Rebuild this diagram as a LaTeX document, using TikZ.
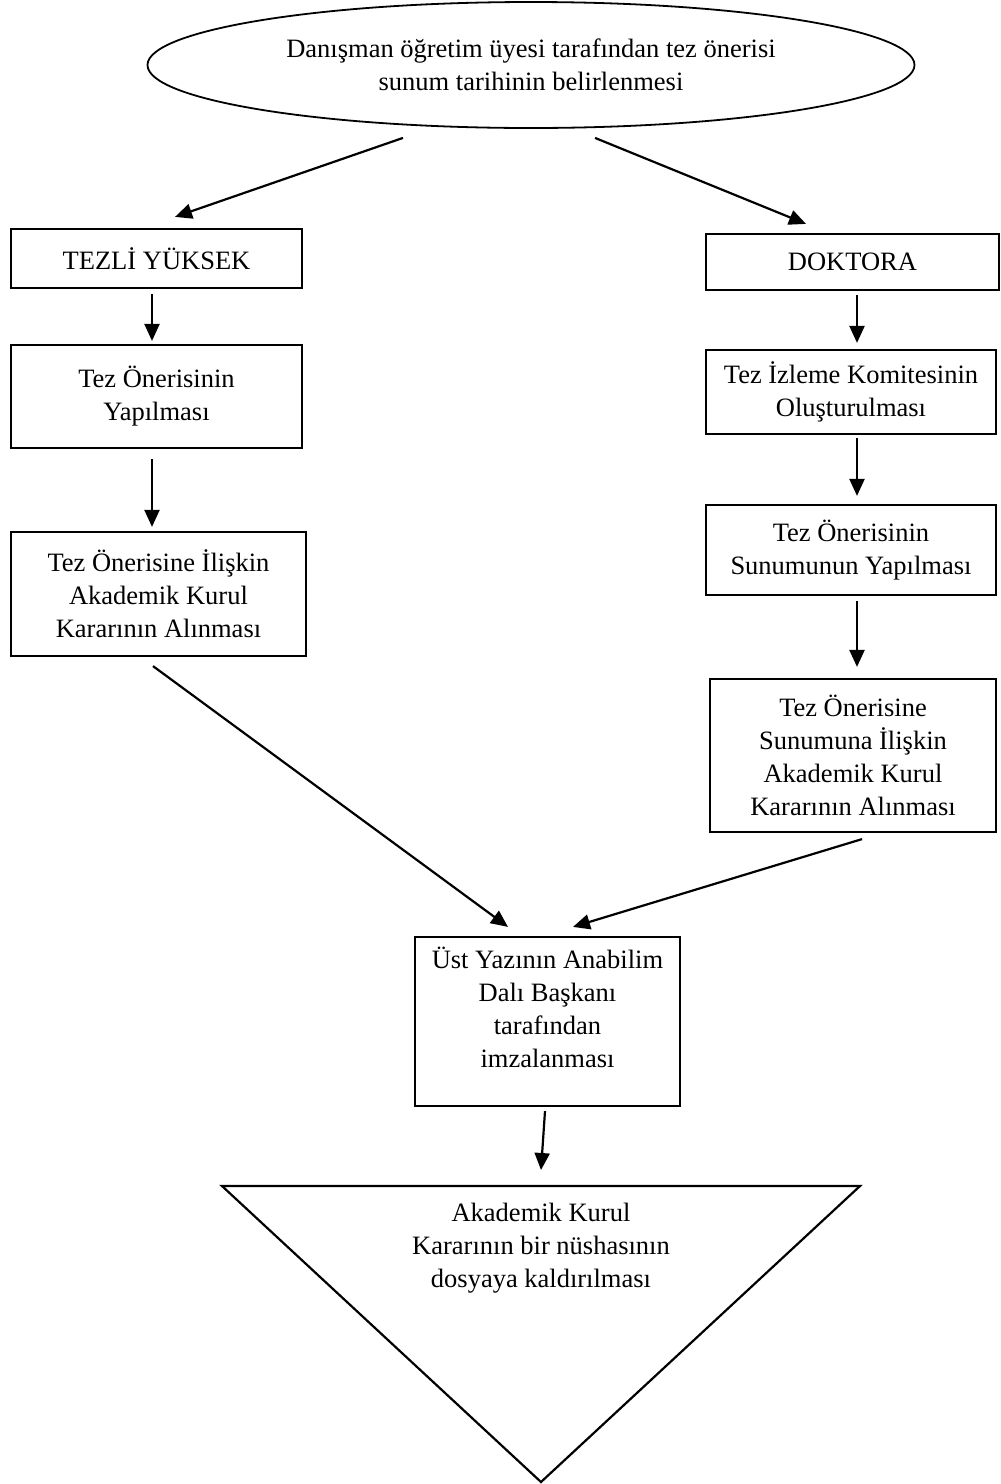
\documentclass[tikz,border=0pt]{standalone}
\usepackage{fontspec}
\setmainfont{Liberation Serif}
\usetikzlibrary{shapes.geometric,arrows.meta}
\begin{document}
\begin{tikzpicture}[x=1pt,y=-1pt,
  every node/.style={font=\fontsize{26.5}{33}\selectfont, align=center, inner sep=0pt},
  procbox/.style={draw, line width=2.2pt},
  arr/.style={line width=2.2pt, -{Triangle[length=17pt,width=15pt]}}]
\useasboundingbox (0,0) rectangle (1001,1484);
\node[draw, ellipse, line width=1.8pt, minimum width=767pt, minimum height=126pt] (ell) at (531,65)
  {Danışman öğretim üyesi tarafından tez önerisi\\sunum tarihinin belirlenmesi};
\node[procbox, minimum width=291pt, minimum height=59pt] (tezli) at (156.5,258.5) {TEZLİ YÜKSEK};
\node[procbox, minimum width=293pt, minimum height=56pt] (dok) at (852.5,262) {DOKTORA};
\node[procbox, minimum width=291pt, minimum height=103pt] (tyap) at (156.5,396.5) {Tez Önerisinin\\Yapılması};
\node[procbox, minimum width=295pt, minimum height=124pt] (tkar) at (158.5,594) {Tez Önerisine İlişkin\\Akademik Kurul\\Kararının Alınması};
\node[procbox, minimum width=290pt, minimum height=84pt] (tizl) at (851,392) {Tez İzleme Komitesinin\\Oluşturulması};
\node[procbox, minimum width=290pt, minimum height=90pt] (tsun) at (851,550) {Tez Önerisinin\\Sunumunun Yapılması};
\node[procbox, minimum width=286pt, minimum height=153pt] (tsk) at (853,755.5) {Tez Önerisine\\Sunumuna İlişkin\\Akademik Kurul\\Kararının Alınması};
\node[procbox, minimum width=265pt, minimum height=169pt] (ust) at (547.5,1021.5) {};
\node[anchor=north] (usttext) at ([shift={(0,11)}]ust.north) {Üst Yazının Anabilim\\Dalı Başkanı\\tarafından\\imzalanması};
\draw[line width=2.2pt, line join=miter] (222,1186) -- (860,1186) -- (541,1482) -- cycle;
\coordinate (tritop) at (541,1186);
\node (tri) at (541,1248) {Akademik Kurul\\Kararının bir nüshasının\\dosyaya kaldırılması};
% connectors
\draw[arr] ([shift={(-128,9)}]ell.south) -- ([shift={(18.5,-11)}]tezli.north);
\draw[arr] ([shift={(64,9)}]ell.south) -- ([shift={(-46.5,-9)}]dok.north);
\draw[arr] ([shift={(-4.5,5)}]tezli.south) -- ([shift={(-4.5,-3)}]tyap.north);
\draw[arr] ([shift={(-4.5,10)}]tyap.south) -- ([shift={(-6.5,-4)}]tkar.north);
\draw[arr] ([shift={(-5.5,9)}]tkar.south) -- ([shift={(-39.5,-9)}]ust.north);
\draw[arr] ([shift={(4.5,4)}]dok.south) -- ([shift={(6,-6)}]tizl.north);
\draw[arr] ([shift={(6,3)}]tizl.south) -- ([shift={(6,-8)}]tsun.north);
\draw[arr] ([shift={(6,5)}]tsun.south) -- ([shift={(4,-11)}]tsk.north);
\draw[arr] ([shift={(9,6)}]tsk.south) -- ([shift={(25.5,-9)}]ust.north);
\draw[arr] ([shift={(-2.5,4)}]ust.south) -- ([shift={(0,-16)}]tritop);
\end{tikzpicture}
\end{document}
